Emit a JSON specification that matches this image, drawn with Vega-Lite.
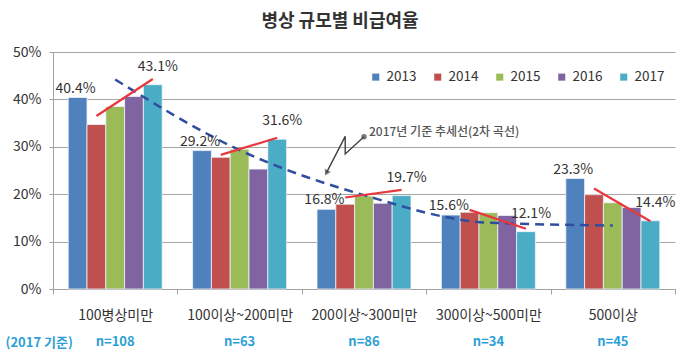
{
  "$schema": "https://vega.github.io/schema/vega-lite/v6.json",
  "width": 622,
  "height": 237,
  "autosize": {"type": "none"},
  "padding": {"left": 53, "top": 52, "right": 5, "bottom": 67},
  "background": "white",
  "title": {"text": "병상 규모별 비급여율", "fontSize": 18, "fontWeight": "bold", "color": "#333333", "font": "Noto Sans CJK KR", "anchor": "middle", "dx": -24, "offset": 14},
  "config": {"font": "Noto Sans CJK KR", "view": {"stroke": null}},
  "datasets": {
    "rates": [
      {"group": "100병상미만", "year": "2013", "rate": 0.404},
      {"group": "100병상미만", "year": "2014", "rate": 0.347},
      {"group": "100병상미만", "year": "2015", "rate": 0.385},
      {"group": "100병상미만", "year": "2016", "rate": 0.406},
      {"group": "100병상미만", "year": "2017", "rate": 0.431},
      {"group": "100이상~200미만", "year": "2013", "rate": 0.292},
      {"group": "100이상~200미만", "year": "2014", "rate": 0.278},
      {"group": "100이상~200미만", "year": "2015", "rate": 0.295},
      {"group": "100이상~200미만", "year": "2016", "rate": 0.253},
      {"group": "100이상~200미만", "year": "2017", "rate": 0.316},
      {"group": "200이상~300미만", "year": "2013", "rate": 0.168},
      {"group": "200이상~300미만", "year": "2014", "rate": 0.179},
      {"group": "200이상~300미만", "year": "2015", "rate": 0.196},
      {"group": "200이상~300미만", "year": "2016", "rate": 0.181},
      {"group": "200이상~300미만", "year": "2017", "rate": 0.197},
      {"group": "300이상~500미만", "year": "2013", "rate": 0.156},
      {"group": "300이상~500미만", "year": "2014", "rate": 0.162},
      {"group": "300이상~500미만", "year": "2015", "rate": 0.161},
      {"group": "300이상~500미만", "year": "2016", "rate": 0.155},
      {"group": "300이상~500미만", "year": "2017", "rate": 0.121},
      {"group": "500이상", "year": "2013", "rate": 0.233},
      {"group": "500이상", "year": "2014", "rate": 0.199},
      {"group": "500이상", "year": "2015", "rate": 0.182},
      {"group": "500이상", "year": "2016", "rate": 0.172},
      {"group": "500이상", "year": "2017", "rate": 0.144}
    ],
    "trends": [
      {"group": "100병상미만", "year": "2014", "rate": 0.365},
      {"group": "100병상미만", "year": "2017", "rate": 0.443},
      {"group": "100이상~200미만", "year": "2014", "rate": 0.283},
      {"group": "100이상~200미만", "year": "2017", "rate": 0.319},
      {"group": "200이상~300미만", "year": "2014", "rate": 0.193},
      {"group": "200이상~300미만", "year": "2017", "rate": 0.209},
      {"group": "300이상~500미만", "year": "2014", "rate": 0.167},
      {"group": "300이상~500미만", "year": "2017", "rate": 0.127},
      {"group": "500이상", "year": "2014", "rate": 0.212},
      {"group": "500이상", "year": "2017", "rate": 0.143}
    ],
    "curve": [
      {"group": "100병상미만", "rate": 0.442},
      {"group": "100이상~200미만", "rate": 0.293},
      {"group": "200이상~300미만", "rate": 0.198},
      {"group": "300이상~500미만", "rate": 0.140},
      {"group": "500이상", "rate": 0.134}
    ],
    "arrow": [
      {"group": "200이상~300미만", "year": "2015", "rate": 0.321, "part": "dot"},
      {"group": "200이상~300미만", "year": "2014", "rate": 0.285, "part": "mid"},
      {"group": "200이상~300미만", "year": "2014", "rate": 0.322, "part": "mid"},
      {"group": "200이상~300미만", "year": "2013", "rate": 0.245, "part": "head"}
    ],
    "counts": [
      {"group": "100병상미만", "n": "n=108"},
      {"group": "100이상~200미만", "n": "n=63"},
      {"group": "200이상~300미만", "n": "n=86"},
      {"group": "300이상~500미만", "n": "n=34"},
      {"group": "500이상", "n": "n=45"}
    ]
  },
  "layer": [
    {
      "data": {"name": "rates"},
      "mark": {"type": "bar", "stroke": "#eef4fa", "strokeWidth": 0.8},
      "encoding": {
        "x": {
          "field": "group", "type": "nominal",
          "scale": {"domain": ["100병상미만", "100이상~200미만", "200이상~300미만", "300이상~500미만", "500이상"], "paddingInner": 0, "paddingOuter": 0},
          "axis": {
            "labelFontSize": 14, "labelColor": "#333333", "labelPadding": 14, "labelAngle": 0,
            "tickBand": "extent", "tickSize": 5, "tickColor": "#a0a0a0", "domainColor": "#a0a0a0",
            "title": "(2017 기준)", "titleColor": "#2E9FD6", "titleFontSize": 13, "titleFontWeight": "bold",
            "titleAnchor": "start", "titleAlign": "left", "titleX": -48, "titleY": 53, "titleBaseline": "middle"
          }
        },
        "xOffset": {"field": "year", "type": "nominal", "scale": {"domain": ["2013", "2014", "2015", "2016", "2017"], "paddingInner": 0, "paddingOuter": 0.81}},
        "y": {
          "field": "rate", "type": "quantitative",
          "scale": {"domain": [0, 0.5], "nice": false},
          "axis": {"values": [0, 0.1, 0.2, 0.3, 0.4, 0.5], "format": ".0%", "labelFontSize": 14, "labelColor": "#333333", "labelPadding": 8, "tickSize": 4, "tickColor": "#a0a0a0", "domainColor": "#a0a0a0", "gridColor": "#a6a6a6", "title": null}
        },
        "color": {
          "field": "year", "type": "nominal",
          "scale": {"domain": ["2013", "2014", "2015", "2016", "2017"], "range": ["#4F81BD", "#C0504D", "#9BBB59", "#8064A2", "#4BACC6"]},
          "legend": {"orient": "none", "legendX": 316, "legendY": 18, "direction": "horizontal", "title": null, "symbolType": "square", "symbolSize": 50, "symbolStrokeWidth": 0, "labelFontSize": 13.5, "labelColor": "#333333", "columnPadding": 14, "labelOffset": 4}
        }
      }
    },
    {
      "data": {"name": "curve"},
      "mark": {"type": "line", "color": "#2F4E9E", "strokeDash": [9, 6], "strokeWidth": 2.5, "interpolate": "monotone"},
      "encoding": {
        "x": {"field": "group", "type": "nominal"},
        "y": {"field": "rate", "type": "quantitative"}
      }
    },
    {
      "data": {"name": "trends"},
      "mark": {"type": "line", "color": "#E8383D", "strokeWidth": 2.2},
      "encoding": {
        "x": {"field": "group", "type": "nominal"},
        "xOffset": {"field": "year", "type": "nominal"},
        "y": {"field": "rate", "type": "quantitative"},
        "detail": {"field": "group"},
        "order": {"value": null}
      }
    },
    {
      "data": {"name": "arrow"},
      "mark": {"type": "line", "color": "#404040", "strokeWidth": 1.4},
      "encoding": {
        "x": {"field": "group", "type": "nominal"},
        "xOffset": {"field": "year", "type": "nominal"},
        "y": {"field": "rate", "type": "quantitative"},
        "order": {"value": null}
      }
    },
    {
      "data": {"name": "arrow"},
      "transform": [{"filter": "datum.part === 'dot'"}],
      "mark": {"type": "point", "shape": "circle", "filled": true, "color": "#404040", "size": 30},
      "encoding": {
        "x": {"field": "group", "type": "nominal"},
        "xOffset": {"field": "year", "type": "nominal"},
        "y": {"field": "rate", "type": "quantitative"}
      }
    },
    {
      "data": {"name": "arrow"},
      "transform": [{"filter": "datum.part === 'head'"}],
      "mark": {"type": "point", "shape": "triangle-up", "filled": true, "color": "#404040", "size": 45, "angle": 208},
      "encoding": {
        "x": {"field": "group", "type": "nominal"},
        "xOffset": {"field": "year", "type": "nominal"},
        "y": {"field": "rate", "type": "quantitative"}
      }
    },
    {
      "data": {"name": "rates"},
      "transform": [{"filter": "datum.year === '2013'"}],
      "mark": {"type": "text", "fontSize": 14, "color": "#333333", "baseline": "middle", "dy": -9, "dx": -2},
      "encoding": {
        "x": {"field": "group", "type": "nominal"},
        "xOffset": {"field": "year", "type": "nominal"},
        "y": {"field": "rate", "type": "quantitative"},
        "text": {"field": "rate", "type": "quantitative", "format": ".1%"}
      }
    },
    {
      "data": {"name": "rates"},
      "transform": [{"filter": "datum.year === '2017'"}],
      "mark": {"type": "text", "fontSize": 14, "color": "#333333", "baseline": "middle", "dy": -18, "dx": 5},
      "encoding": {
        "x": {"field": "group", "type": "nominal"},
        "xOffset": {"field": "year", "type": "nominal"},
        "y": {"field": "rate", "type": "quantitative"},
        "text": {"field": "rate", "type": "quantitative", "format": ".1%"}
      }
    },
    {
      "data": {"values": [{"note": "2017년 기준 추세선(2차 곡선)"}]},
      "mark": {"type": "text", "fontSize": 12, "color": "#555555", "align": "left", "baseline": "middle", "dx": 5, "fontWeight": 500},
      "encoding": {
        "x": {"datum": "200이상~300미만"},
        "xOffset": {"datum": "2015"},
        "y": {"datum": 0.331},
        "text": {"field": "note"}
      }
    },
    {
      "data": {"name": "counts"},
      "mark": {"type": "text", "fontSize": 13, "fontWeight": "bold", "color": "#2E9FD6", "baseline": "middle"},
      "encoding": {
        "x": {"field": "group", "type": "nominal"},
        "y": {"datum": -0.112},
        "text": {"field": "n"}
      }
    }
  ]
}
